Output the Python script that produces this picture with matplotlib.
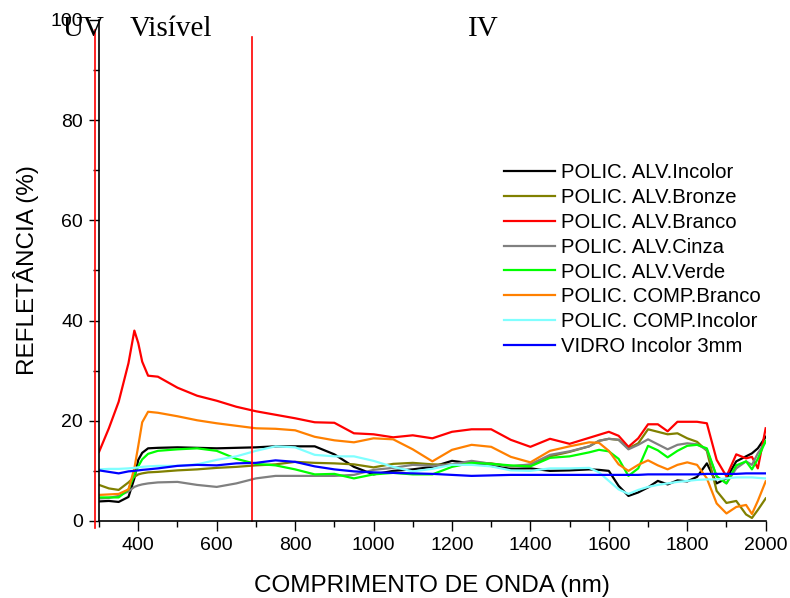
import numpy as np
import matplotlib
matplotlib.use("Agg")
import matplotlib.pyplot as plt

plt.rcParams['font.family'] = ['Liberation Sans', 'DejaVu Sans']

# wavelength grid (nm)
wl = [300, 325, 350, 375, 390, 400, 410, 425, 450, 500, 550, 600, 650, 700, 750,
      800, 850, 900, 950, 1000, 1050, 1100, 1150, 1200, 1250, 1300, 1350, 1400,
      1450, 1500, 1550, 1575, 1600, 1625, 1650, 1675, 1700, 1725, 1750, 1775,
      1800, 1825, 1850, 1875, 1900, 1925, 1950, 1965, 1980, 2000]

alv_incolor = [3.9, 4.0, 3.8, 4.8, 8.5, 12.2, 13.6, 14.5, 14.6, 14.7, 14.6, 14.5, 14.6, 14.7, 14.9,
               14.9, 14.9, 13.3, 10.8, 9.3, 10.0, 10.3, 10.8, 12.0, 11.5, 11.0, 10.4, 10.5,
               10.0, 10.1, 10.3, 10.2, 10.0, 7.0, 5.0, 5.7, 6.7, 8.0, 7.3, 8.1,
               7.9, 8.8, 11.5, 7.5, 8.5, 11.9, 12.9, 13.5, 14.5, 16.8]
alv_bronze = [7.2, 6.5, 6.2, 7.7, 8.8, 9.3, 9.5, 9.7, 9.8, 10.1, 10.3, 10.6, 10.8, 11.1, 11.3,
              11.8, 11.6, 11.5, 11.3, 10.7, 11.4, 11.6, 11.3, 11.2, 11.7, 11.5, 10.9, 11.2,
              12.9, 13.8, 14.9, 16.0, 16.4, 16.2, 14.5, 15.5, 18.3, 17.8, 17.3, 17.5,
              16.5, 15.8, 14.0, 6.0, 3.6, 4.0, 1.3, 0.6, 2.2, 4.5]
alv_branco = [13.8, 18.5, 23.8, 31.5, 38.0, 35.5, 31.8, 29.0, 28.8, 26.6, 25.0, 24.0, 22.8, 21.9, 21.2,
              20.5, 19.7, 19.6, 17.5, 17.3, 16.7, 17.1, 16.5, 17.8, 18.3, 18.3, 16.2, 14.8,
              16.4, 15.4, 16.6, 17.2, 17.8, 17.0, 14.8, 16.5, 19.3, 19.3, 17.9, 19.8,
              19.8, 19.8, 19.5, 12.2, 8.9, 13.3, 12.5, 12.8, 10.5, 18.5]
alv_cinza = [4.5, 4.6, 5.0, 5.9, 6.8, 7.1, 7.3, 7.5, 7.7, 7.8, 7.2, 6.8, 7.5, 8.5, 9.0,
             9.0, 9.0, 9.0, 9.2, 10.2, 10.6, 11.2, 11.0, 11.3, 12.0, 11.4, 10.9, 11.3,
             13.2, 13.9, 14.9, 16.0, 16.4, 16.2, 14.3, 15.2, 16.3, 15.3, 14.3, 15.2,
             15.5, 15.3, 14.2, 8.9, 7.5, 10.5, 11.9, 11.2, 13.5, 15.8]
alv_verde = [4.7, 4.7, 4.7, 6.3, 9.2, 10.9, 12.3, 13.4, 14.0, 14.3, 14.5, 14.0, 12.4, 11.4, 11.1,
             10.3, 9.3, 9.4, 8.5, 9.3, 9.6, 9.3, 9.3, 10.8, 11.6, 11.4, 11.1, 10.9,
             12.6, 12.9, 13.7, 14.2, 13.9, 12.4, 9.0, 10.5, 15.0, 14.1, 12.7, 14.0,
             15.0, 15.2, 14.5, 8.9, 7.5, 11.1, 11.9, 10.3, 12.4, 16.0]
comp_branco = [5.2, 5.3, 5.4, 6.3, 10.5, 15.0, 19.7, 21.8, 21.6, 20.9, 20.1, 19.5, 19.0, 18.5, 18.4,
               18.1, 16.8, 16.1, 15.7, 16.5, 16.3, 14.3, 11.9, 14.2, 15.2, 14.8, 12.8, 11.7,
               14.0, 14.9, 15.7, 15.6, 14.0, 11.3, 10.0, 11.2, 12.1, 11.1, 10.3, 11.2,
               11.7, 11.2, 8.5, 3.5, 1.5, 2.8, 3.2, 1.4, 4.0, 7.9]
comp_incolor = [10.3, 10.4, 10.4, 10.5, 10.6, 10.7, 10.8, 10.9, 11.0, 11.0, 11.3, 12.2, 12.9, 14.0, 14.9,
                14.7, 13.2, 12.9, 12.9, 12.0, 10.8, 9.9, 10.4, 11.2, 11.2, 10.9, 10.1, 10.0,
                10.5, 10.5, 10.6, 9.7, 8.0, 6.3, 5.4, 6.2, 6.8, 7.2, 7.5, 7.8,
                8.0, 8.2, 8.3, 8.3, 8.5, 8.7, 8.7, 8.7, 8.6, 8.5]
vidro = [10.1, 9.8, 9.5, 9.9, 10.0, 10.1, 10.2, 10.3, 10.5, 11.0, 11.2, 11.1, 11.5, 11.6, 12.1,
         11.8, 10.9, 10.3, 9.9, 9.7, 9.6, 9.5, 9.4, 9.2, 9.0, 9.1, 9.2, 9.2,
         9.2, 9.2, 9.2, 9.2, 9.2, 9.2, 9.2, 9.2, 9.3, 9.3, 9.3, 9.3,
         9.3, 9.3, 9.4, 9.4, 9.4, 9.4, 9.5, 9.5, 9.5, 9.5]

series = [
    ("POLIC. ALV.Incolor", alv_incolor, "#000000"),
    ("POLIC. ALV.Bronze", alv_bronze, "#808000"),
    ("POLIC. ALV.Branco", alv_branco, "#ff0000"),
    ("POLIC. ALV.Cinza", alv_cinza, "#808080"),
    ("POLIC. ALV.Verde", alv_verde, "#00ff00"),
    ("POLIC. COMP.Branco", comp_branco, "#ff8000"),
    ("POLIC. COMP.Incolor", comp_incolor, "#80ffff"),
    ("VIDRO Incolor 3mm", vidro, "#0000ff"),
]

# region limits (nm) and labels
limit_uv = 290
limit_iv = 690
regions = [("UV", 206), ("Visível", 378), ("IV", 1241)]

fig = plt.figure(figsize=(7.9, 5.98), dpi=100)
ax = fig.add_axes([0.1254, 0.1288, 0.8438, 0.8378])

for name, vals, col in series:
    ax.plot(wl, vals, color=col, lw=1.6, label=name)

ax.plot([limit_uv, limit_uv], [-1.5, 98], color="#ff0000", lw=1.2, clip_on=False)
ax.plot([limit_iv, limit_iv], [0, 96.6], color="#ff0000", lw=1.2, clip_on=False)

for txt, xpos in regions:
    ax.text(xpos, 96.8, txt, family=['Liberation Serif', 'DejaVu Serif'], fontsize=21,
            ha='left', va='baseline')

ax.set_xlim(300, 2000)
ax.set_ylim(0, 100)
ax.set_xticks(range(400, 2001, 200))
ax.set_xticks(range(300, 2001, 100), minor=True)
ax.set_yticks(range(0, 101, 20))
ax.set_yticks(range(0, 101, 10), minor=True)
ax.tick_params(which='major', length=7.5, width=1.0, labelsize=14, pad=4)
ax.tick_params(which='minor', length=4.5, width=1.0)
for s in ['top', 'right']:
    ax.spines[s].set_visible(False)
for s in ['left', 'bottom']:
    ax.spines[s].set_linewidth(1.2)

ax.set_xlabel("COMPRIMENTO DE ONDA (nm)", fontsize=17.5, labelpad=15)
ax.set_ylabel("REFLETÂNCIA (%)", fontsize=17.5, labelpad=8)

ax.legend(loc='upper left', bbox_to_anchor=(504 / 790, (598 - 163) / 598),
          bbox_transform=fig.transFigure, frameon=False, fontsize=14.6,
          handlelength=2.5, handletextpad=0.3, labelspacing=0.29,
          borderpad=0, borderaxespad=0)

fig.savefig("out.png", dpi=100)
